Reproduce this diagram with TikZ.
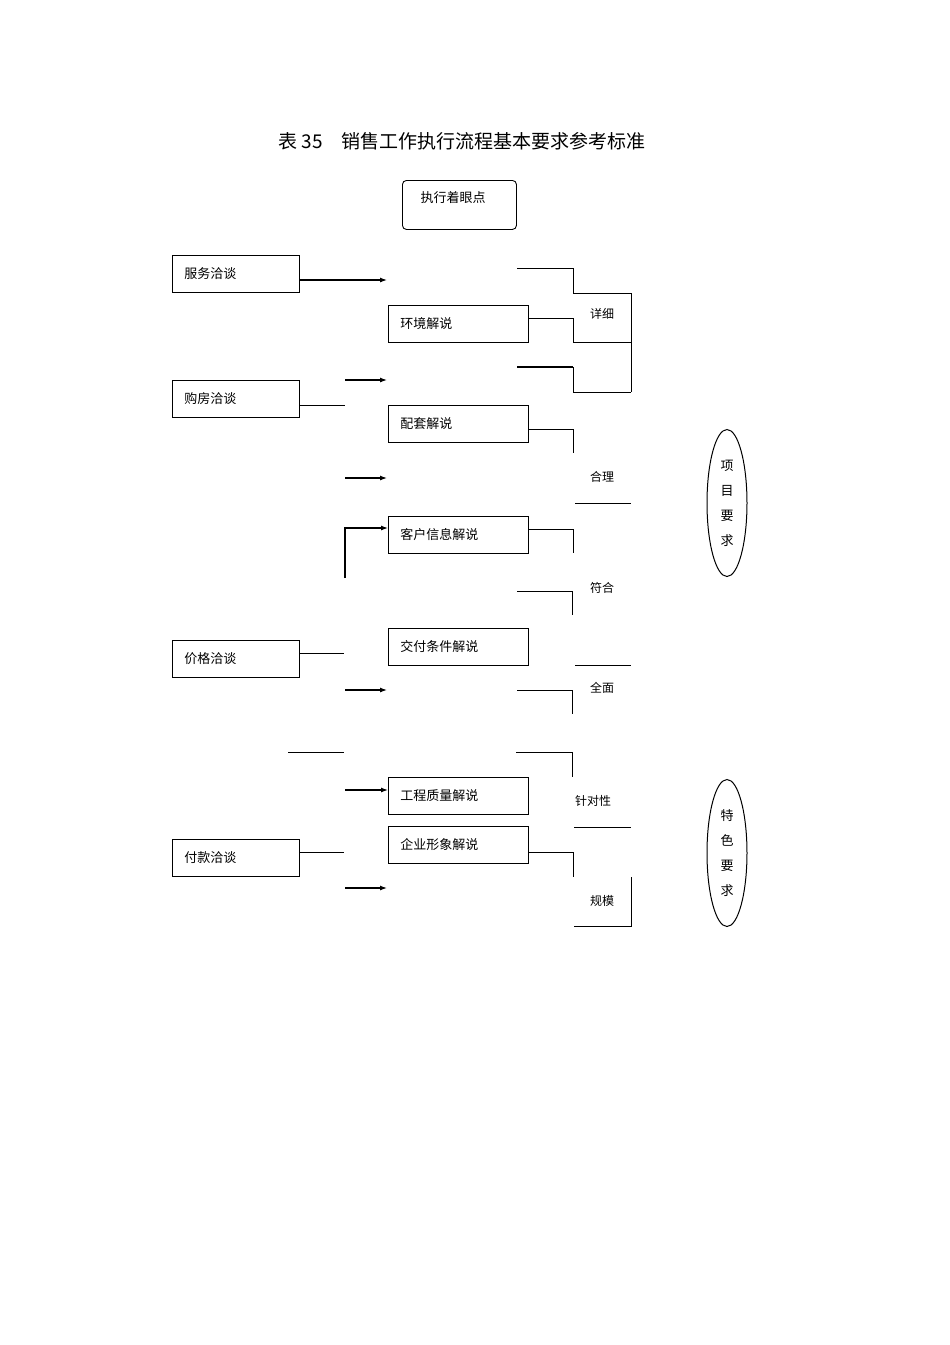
\documentclass[tikz,border=0pt]{standalone}
\usepackage{fontspec}
\newfontfamily\cjk{Noto Sans CJK SC}
\usetikzlibrary{arrows.meta,shapes.geometric}
\begin{document}
\begin{tikzpicture}[x=1pt,y=-1pt,
  box/.style={draw,line width=0.9pt,minimum height=37pt,anchor=north west,inner sep=0pt,font=\cjk\fontsize{13}{13}\selectfont},
  ln/.style={line width=0.8pt},
  arr/.style={line width=1.2pt,-{Latex[length=7pt,width=5pt]}},
  lab/.style={font=\cjk\fontsize{12}{12}\selectfont,inner sep=1pt},
  ell/.style={draw,line width=1pt,ellipse,minimum width=40pt,minimum height=147pt,inner sep=0pt,font=\cjk\fontsize{13}{25}\selectfont,align=center}]
\useasboundingbox (0,0) rectangle (950,1345);
\node[font=\cjk\fontsize{19}{19}\selectfont] (title) at (462,141) {表 35\quad 销售工作执行流程基本要求参考标准};
\node[draw,line width=0.9pt,rounded corners=4pt,minimum width=114pt,minimum height=49pt,anchor=north west] (top) at (402,180) {};
\node[lab,font=\cjk\fontsize{13}{13}\selectfont] at (453,198) {执行着眼点};
% left boxes
\foreach \n/\y/\t in {a/255/服务洽谈,b/380/购房洽谈,c/640/价格洽谈,d/839/付款洽谈}
  \node[box,minimum width=115pt,text width=103pt,align=left,inner xsep=12pt] (\n) at (172,\y) {\t};
% middle boxes
\foreach \n/\y/\t in {m1/305/环境解说,m2/405/配套解说,m3/516/客户信息解说,m4/628/交付条件解说,m5/777/工程质量解说,m6/826/企业形象解说}
  \node[box,minimum width=128pt,text width=116pt,align=left,inner xsep=12pt] (\n) at (388,\y) {\t};
% arrows
\coordinate (p1) at (387,280); \draw[arr] (a.east |- p1) -- (p1);
\coordinate (q2s) at (345,380); \coordinate (q2) at (387,380); \draw[arr] (q2s) -- (q2);
\coordinate (q3s) at (345,478); \coordinate (q3) at (387,478); \draw[arr] (q3s) -- (q3);
\coordinate (q4s) at (345,578); \draw[arr] (q4s) -- (345,528) -- (m3.west |- 0,528);
\coordinate (q5s) at (345,690); \coordinate (q5) at (387,690); \draw[arr] (q5s) -- (q5);
\coordinate (q6s) at (345,790); \draw[arr] (q6s) -- (m5.west |- q6s);
\coordinate (q7s) at (345,888); \coordinate (q7) at (387,888); \draw[arr] (q7s) -- (q7);
% left stubs
\draw[ln] (b.east |- 0,405) -- (345,405);
\draw[ln] (c.east |- 0,653) -- (344,653);
\draw[ln] (288,752) -- (344,752);
\draw[ln] (d.east |- 0,852) -- (344,852);
% right brackets
\draw[ln] (517,268) -- (573,268) -- (573,293) -- (631,293);
\draw[ln] (m1.east |- 0,318) -- (573,318) -- (573,342) -- (631,342);
\draw[ln] (631,293) -- (631,392);
\draw[line width=1.2pt] (517,367) -- (573,367);
\draw[ln] (573,367) -- (573,392) -- (631,392);
\draw[ln] (m2.east |- 0,429) -- (573,429) -- (573,453);
\draw[ln] (575,503) -- (631,503);
\draw[ln] (m3.east |- 0,529) -- (573,529) -- (573,553);
\draw[ln] (517,591) -- (572,591) -- (572,615);
\draw[ln] (575,665) -- (631,665);
\draw[ln] (517,690) -- (572,690) -- (572,714);
\draw[ln] (516,752) -- (572,752) -- (572,777);
\draw[ln] (574,827) -- (631,827);
\draw[ln] (m6.east |- 0,852) -- (573,852) -- (573,877);
\draw[ln] (631,877) -- (631,926) -- (574,926);
% labels
\node[lab] (l1) at (602,314) {详细};
\node[lab] (l2) at (602,477) {合理};
\node[lab] (l3) at (602,588) {符合};
\node[lab] (l4) at (602,688) {全面};
\node[lab] (l5) at (593,801) {针对性};
\node[lab] (l6) at (602,901) {规模};
% ellipses
\node[ell] (e1) at (727,503) {项\\目\\要\\求};
\node[ell] (e2) at (727,853) {特\\色\\要\\求};
\end{tikzpicture}
\end{document}
